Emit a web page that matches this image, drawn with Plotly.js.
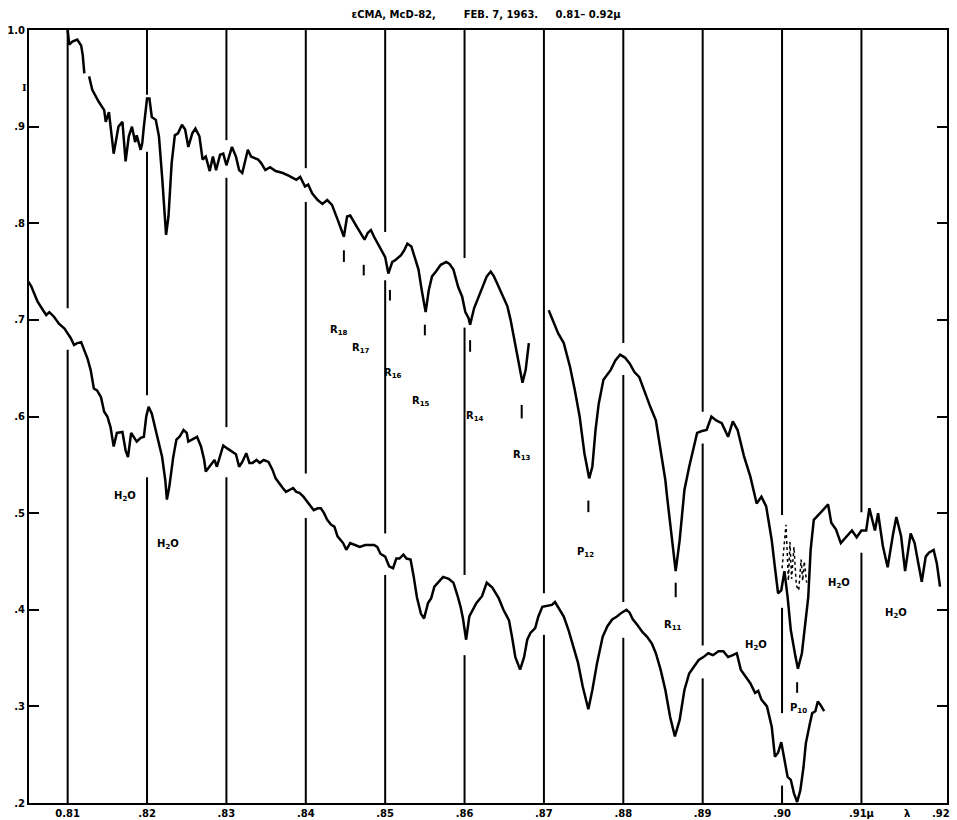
<!DOCTYPE html>
<html><head><meta charset="utf-8">
<script src="https://cdn.plot.ly/plotly-3.0.1.min.js"></script>
<style>html,body{margin:0;padding:0;background:#fff}#chart{width:957px;height:820px}</style>
</head><body><div id="chart"></div>
<script>
// ---- tick values / labels ----
const wlTicks = [0.81,0.82,0.83,0.84,0.85,0.86,0.87,0.88,0.89,0.90,0.91,0.92];
const wlTickText = ['0.81','.82','.83','.84','.85','.86','.87','.88','.89','.90','.91\u03bc','.92'];
const iTicks = [0.2,0.3,0.4,0.5,0.6,0.7,0.8,0.9,1.0];
const iTickText = ['.2','.3','.4','.5','.6','.7','.8','.9','1.0'];

// ---- upper tracing (wavelength in micron, relative intensity) ----
const upperWl = [
 0.81,0.8102,0.8106,0.8112,0.8117,0.8119,0.8121,0.8124,0.8127,0.8131,0.8139,0.8146,0.8148,0.8152,0.8158,0.8164,0.8169,0.8173,0.8177,0.8181,0.8185,0.8187,0.8192,0.8194,0.8196,
 0.82,0.8203,0.8206,0.8211,0.8215,0.8219,0.8224,0.8227,0.8231,0.8235,0.8239,0.8244,0.8248,0.8252,0.8257,0.8261,0.8266,0.827,0.8274,0.8279,0.8283,0.8287,0.8292,0.8296,
 0.83,0.8307,0.8312,0.8316,0.832,0.8327,0.8331,0.834,0.8344,0.8349,0.8355,0.8362,0.8371,0.8379,0.8388,0.8393,0.8399,
 0.8403,0.8408,0.8415,0.8421,0.8427,0.8433,0.844,0.8444,0.8448,0.8452,0.8456,0.8461,0.8467,0.8474,0.8478,0.8482,0.8486,0.8493,
 0.85,0.8504,0.8509,0.8513,0.852,0.8524,0.8528,0.8533,0.8537,0.8542,0.8546,0.8551,0.8555,0.8559,0.8564,0.857,0.8577,0.8581,0.8586,0.8592,0.8597,
 0.8601,0.8605,0.8607,0.8612,0.8616,0.8622,0.8628,0.8633,0.8637,0.8641,0.8647,0.8654,0.8658,0.8662,0.8668,0.8673,0.8677,0.8681,0.8695,
 0.8706,0.8712,0.8718,0.8725,0.8733,0.8739,0.8745,0.8751,0.8757,0.8761,0.8765,0.8769,0.8775,0.8784,0.879,0.8796,
 0.8802,0.8808,0.8814,0.882,0.8826,0.8834,0.8841,0.8847,0.8853,0.8855,0.8861,0.8866,0.8871,0.8877,0.8883,0.8889,0.8893,0.8899,
 0.8905,0.8911,0.8917,0.8924,0.8932,0.8938,0.8944,0.8952,0.896,0.8968,0.8974,0.898,0.8987,0.8991,0.8995,0.8999,
 0.9003,0.9007,0.9011,0.9017,0.902,0.9025,0.9029,0.9033,0.9036,0.904,0.9048,0.9054,0.9058,0.9062,0.9068,0.9074,0.908,0.9088,0.9094,
 0.91,0.9106,0.911,0.9117,0.9121,0.9127,0.9133,0.914,0.9144,0.915,0.9155,0.9162,0.9167,0.9171,0.9176,0.9181,0.9185,0.9191,0.9195,0.9199
];
const upperI = [
 1.0,0.985,0.988,0.99,0.984,0.974,0.955,null,0.952,0.938,0.926,0.917,0.905,0.915,0.872,0.9,0.905,0.864,0.89,0.9,0.884,0.891,0.876,0.883,0.9,
 0.929,0.929,0.91,0.907,0.89,0.848,0.788,0.807,0.862,0.891,0.893,0.902,0.897,0.879,0.893,0.898,0.89,0.866,0.869,0.854,0.869,0.855,0.871,0.872,
 0.86,0.879,0.869,0.855,0.852,0.876,0.869,0.866,0.862,0.855,0.858,0.854,0.852,0.849,0.845,0.848,0.838,
 0.84,0.831,0.824,0.82,0.824,0.819,0.804,0.795,0.786,0.807,0.808,0.801,0.793,0.783,0.79,0.793,0.786,0.776,
 0.765,0.748,0.76,0.762,0.767,0.772,0.779,0.776,0.765,0.752,0.731,0.708,0.731,0.745,0.75,0.757,0.76,0.758,0.752,0.734,0.724,
 0.708,0.702,0.695,0.712,0.72,0.733,0.745,0.75,0.745,0.738,0.726,0.714,0.7,0.683,0.655,0.635,0.648,0.676,null,
 0.71,0.697,0.686,0.676,0.651,0.627,0.6,0.562,0.536,0.548,0.586,0.613,0.638,0.648,0.658,0.664,
 0.661,0.655,0.646,0.641,0.627,0.61,0.596,0.565,0.534,0.518,0.473,0.44,0.472,0.524,0.548,0.569,0.583,0.585,
 0.586,0.6,0.596,0.593,0.579,0.595,0.586,0.559,0.538,0.51,0.517,0.507,0.472,0.444,0.417,0.42,
 0.44,0.413,0.379,0.351,0.339,0.355,0.386,0.413,0.462,0.493,0.5,0.505,0.509,0.49,0.483,0.469,0.475,0.482,0.475,
 0.482,0.482,0.505,0.482,0.5,0.466,0.444,0.479,0.496,0.476,0.44,0.479,0.469,0.451,0.429,0.455,0.459,0.462,0.448,0.424
];

// ---- lower tracing ----
const lowerWl = [
 0.8046,0.805,0.8054,0.8058,0.8062,0.8069,0.8073,0.8077,0.8083,0.8089,0.8096,
 0.81,0.8104,0.8108,0.8112,0.8117,0.8121,0.8125,0.8129,0.8133,0.8137,0.8142,0.8146,0.815,0.8154,0.8158,0.8162,0.8169,0.8173,0.8176,0.818,0.8183,0.8187,0.8192,0.8196,0.8199,
 0.8202,0.8206,0.8211,0.8215,0.8219,0.8223,0.8225,0.8228,0.8233,0.8237,0.8241,0.8246,0.825,0.8252,0.8257,0.8263,0.8268,0.8272,0.8274,0.8279,0.8283,0.8285,0.8288,0.8292,0.8296,
 0.8301,0.8307,0.8312,0.8316,0.832,0.8325,0.8329,0.8333,0.8338,0.8342,0.8347,0.8353,0.8358,0.8362,0.8366,0.8371,0.8375,0.838,0.8384,0.8388,0.8392,0.8397,
 0.8402,0.8406,0.841,0.8415,0.8419,0.8423,0.8427,0.8432,0.8436,0.844,0.8447,0.8451,0.8456,0.8462,0.8468,0.8475,0.8481,0.8486,0.849,0.8494,
 0.85,0.8505,0.851,0.8514,0.8518,0.8523,0.8527,0.8532,0.8536,0.854,0.8545,0.8549,0.8554,0.8558,0.8562,0.8567,0.8573,0.858,0.8586,0.8591,0.8595,0.8598,
 0.8602,0.8606,0.8615,0.8622,0.8628,0.8635,0.8643,0.8649,0.8656,0.866,0.8664,0.867,0.8675,0.8679,0.8683,0.8689,0.8693,0.8698,
 0.8704,0.871,0.8714,0.8718,0.8725,0.8731,0.8737,0.8743,0.8749,0.8756,0.8761,0.8767,0.8774,0.878,0.8786,0.8792,0.8798,
 0.8804,0.8808,0.8812,0.8818,0.8824,0.883,0.8836,0.8841,0.8847,0.8853,0.8859,0.8865,0.8871,0.8877,0.8883,0.8889,0.8895,
 0.8901,0.8907,0.8913,0.892,0.8926,0.8932,0.8938,0.8943,0.8948,0.8954,0.896,0.8966,0.897,0.8974,0.8981,0.8987,0.8991,0.8995,0.8999,
 0.9003,0.9007,0.9011,0.9015,0.9019,0.9023,0.9027,0.903,0.9035,0.9038,0.9042,0.9045,0.9048,0.9053
];
const lowerI = [
 0.738,0.74,0.735,0.726,0.719,0.71,0.705,0.708,0.703,0.696,0.691,
 0.686,0.681,0.674,0.676,0.677,0.669,0.66,0.648,0.629,0.627,0.62,0.605,0.6,0.589,0.569,0.583,0.584,0.565,0.558,0.583,0.579,0.574,0.578,0.579,0.6,
 0.61,0.603,0.586,0.572,0.558,0.534,0.514,0.527,0.558,0.576,0.579,0.586,0.583,0.574,0.576,0.579,0.569,0.555,0.543,0.548,0.552,0.555,0.548,0.558,0.57,
 0.567,0.564,0.561,0.548,0.553,0.562,0.552,0.552,0.555,0.552,0.555,0.553,0.545,0.536,0.531,0.526,0.522,0.524,0.526,0.522,0.521,0.517,
 0.512,0.508,0.503,0.505,0.505,0.5,0.493,0.488,0.486,0.476,0.469,0.462,0.469,0.467,0.465,0.467,0.467,0.467,0.465,0.458,
 0.455,0.445,0.443,0.453,0.453,0.457,0.453,0.452,0.434,0.413,0.396,0.391,0.407,0.412,0.424,0.429,0.434,0.432,0.428,0.415,0.403,0.391,
 0.369,0.393,0.407,0.414,0.428,0.423,0.412,0.4,0.389,0.371,0.351,0.338,0.351,0.369,0.376,0.381,0.393,0.403,
 0.404,0.405,0.408,0.403,0.393,0.379,0.362,0.345,0.32,0.297,0.317,0.345,0.372,0.383,0.39,0.393,0.397,
 0.4,0.397,0.39,0.384,0.377,0.372,0.365,0.355,0.338,0.317,0.289,0.269,0.286,0.317,0.334,0.341,0.348,
 0.351,0.355,0.353,0.357,0.357,0.351,0.353,0.355,0.338,0.331,0.324,0.314,0.316,0.307,0.3,0.279,0.248,0.252,0.263,
 0.245,0.227,0.224,0.21,0.201,0.213,0.237,0.262,0.282,0.293,0.295,0.305,0.302,0.295
];

// ---- dotted alternative tracing near 0.90 ----
const dottedWl = [0.9,0.9005,0.9008,0.901,0.9012,0.9015,0.9018,0.9021,0.9024,0.9026,0.9028,0.9031];
const dottedI  = [0.443,0.488,0.43,0.47,0.432,0.465,0.425,0.42,0.452,0.43,0.45,0.428];

// ---- line identifications ----
const lineNames = ['R<sub>18</sub>','R<sub>17</sub>','R<sub>16</sub>','R<sub>15</sub>','R<sub>14</sub>','R<sub>13</sub>','P<sub>12</sub>','R<sub>11</sub>','P<sub>10</sub>'];
const lineWl    = [0.8448,0.8473,0.8506,0.855,0.8607,0.8672,0.8756,0.8866,0.9019];
const h2oLabel  = 'H<sub>2</sub>O';

// ---- layout helpers (positions only) ----
const lineMarkTop = [0.772,0.757,0.731,0.695,0.679,0.612,0.513,0.428,0.325];
const lineMarkBot = [0.760,0.746,0.720,0.684,0.667,0.598,0.501,0.413,0.314];
const lineLabelPos = [[0.8442,0.689],[0.8469,0.670],[0.851,0.645],[0.8545,0.616],[0.8613,0.600],[0.8673,0.560],[0.8753,0.459],[0.8863,0.384],[0.9021,0.298]];
const h2oPos = [[0.8172,0.517],[0.8226,0.468],[0.8967,0.363],[0.9072,0.427],[0.9143,0.396]];
const gridSegs = [
 [[1.0,0.712],[0.669,0.2]],
 [[1.0,0.933],[0.874,0.622],[0.537,0.2]],
 [[1.0,0.886],[0.847,0.589],[0.537,0.2]],
 [[1.0,0.857],[0.822,0.541],[0.495,0.2]],
 [[1.0,0.791],[0.741,0.479],[0.436,0.2]],
 [[1.0,0.764],[0.692,0.436],[0.353,0.2]],
 [[1.0,0.417],[0.374,0.2]],
 [[1.0,0.676],[0.643,0.408],[0.371,0.2]],
 [[1.0,0.605],[0.572,0.363],[0.329,0.2]],
 [[1.0,0.498],[0.402,0.293],[0.218,0.2]],
 [[1.0,0.501],[0.459,0.2]]
];

const FONT = 'DejaVu Sans, Liberation Sans, sans-serif';
const NB = n => '\u00a0'.repeat(n);
const shapes = [];
gridSegs.forEach((segs, i) => {
  segs.forEach(s => shapes.push({type:'line', xref:'x', yref:'y', x0:wlTicks[i], x1:wlTicks[i], y0:s[0], y1:s[1], line:{color:'#000', width:2}}));
});
lineWl.forEach((w, i) => shapes.push({type:'line', xref:'x', yref:'y', x0:w, x1:w, y0:lineMarkTop[i], y1:lineMarkBot[i], line:{color:'#000', width:2}}));

const annotations = [];
lineNames.forEach((t, i) => annotations.push({x:lineLabelPos[i][0], y:lineLabelPos[i][1], xref:'x', yref:'y', text:t, showarrow:false, font:{family:FONT, size:10, color:'#000', weight:'bold'}}));
h2oPos.forEach(p => annotations.push({x:p[0], y:p[1], xref:'x', yref:'y', text:h2oLabel, showarrow:false, font:{family:FONT, size:10, color:'#000', weight:'bold'}}));
annotations.push({x:-0.0098, y:0.935, xref:'paper', yref:'paper', text:'I', showarrow:false, font:{family:'DejaVu Serif, serif', size:10, color:'#000', weight:'bold'}});
annotations.push({x:0.963, y:-0.0135, xref:'paper', yref:'paper', text:'\u03bb', showarrow:false, yanchor:'middle', font:{family:FONT, size:10, color:'#000', weight:'bold'}});

const traces = [
  {x:upperWl, y:upperI, type:'scatter', mode:'lines', line:{color:'#000', width:2.5}, connectgaps:false, hoverinfo:'skip'},
  {x:lowerWl, y:lowerI, type:'scatter', mode:'lines', line:{color:'#000', width:2.5}, hoverinfo:'skip'},
  {x:dottedWl, y:dottedI, type:'scatter', mode:'lines', line:{color:'#000', width:1.5, dash:'dot'}, hoverinfo:'skip'}
];

const layout = {
  width:957, height:820,
  margin:{l:29, r:10, t:30, b:17, pad:0},
  paper_bgcolor:'#fff', plot_bgcolor:'#fff',
  showlegend:false,
  title:{text:'\u03b5CMA, McD-82,' + NB(8) + 'FEB. 7, 1963.' + NB(5) + '0.81\u2013 0.92\u03bc', x:0.508, xanchor:'center', y:0.982, yanchor:'middle', font:{family:FONT, size:10, color:'#000', weight:'bold'}},
  xaxis:{range:[0.80513,0.92078], showgrid:false, zeroline:false, showline:true, linecolor:'#000', linewidth:2, mirror:true,
         ticks:'', tickvals:wlTicks, ticktext:wlTickText, tickfont:{family:FONT, size:10, color:'#000', weight:'bold'}},
  yaxis:{range:[0.2,1.0], showgrid:false, zeroline:false, showline:true, linecolor:'#000', linewidth:2, mirror:'ticks',
         ticks:'inside', ticklen:10, tickwidth:2, tickcolor:'#000', tickvals:iTicks, ticktext:iTickText,
         tickfont:{family:FONT, size:10, color:'#000', weight:'bold'}},
  shapes:shapes, annotations:annotations
};
Plotly.newPlot('chart', traces, layout, {staticPlot:true, displayModeBar:false});
</script></body></html>
